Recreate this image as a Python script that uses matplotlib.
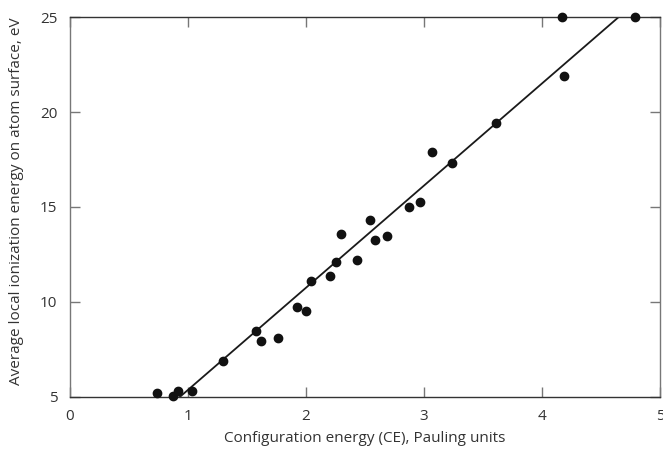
import matplotlib
matplotlib.use("Agg")
import matplotlib.pyplot as plt
import numpy as np

ce = [0.734, 0.875, 0.917, 1.035, 1.30, 1.58, 1.62, 1.76, 1.92, 2.00, 2.04, 2.20,
      2.255, 2.30, 2.43, 2.54, 2.585, 2.686, 2.87, 2.965, 3.07, 3.236, 3.61,
      4.166, 4.19, 4.79]
ion = [5.19, 5.03, 5.34, 5.34, 6.91, 8.45, 7.96, 8.13, 9.76, 9.50, 11.10, 11.35,
       12.10, 13.56, 12.19, 14.29, 13.24, 13.47, 15.01, 15.25, 17.88, 17.32, 19.42,
       24.98, 21.87, 24.98]
fit_slope = 5.376
fit_intercept = 0.0
fit_x = [0.90, 4.70]

xticks = [0, 1, 2, 3, 4, 5]
yticks = [5, 10, 15, 20, 25]

plt.rcParams['font.family'] = ['Open Sans', 'DejaVu Sans']

fig = plt.figure(figsize=(6.63, 4.5), dpi=100)
ax = fig.add_axes([0.1056, 0.1178, 0.8899, 0.8444])

fx = np.array(fit_x)
ax.plot(fx, fit_slope * fx + fit_intercept, color='#1a1a1a', lw=1.3, zorder=2)
ax.plot(ce, ion, 'o', color='#111111', ms=6, clip_on=False, zorder=3)

ax.set_xlim(0, 5)
ax.set_ylim(5, 25)
ax.set_xticks(xticks)
ax.set_yticks(yticks)
ax.tick_params(direction='in', length=7.5, width=1.0, color='#777777',
               labelsize=11, labelcolor='#333333', top=True, right=True)
ax.tick_params(axis='x', pad=9)
ax.tick_params(axis='y', pad=9)

for s in ['left', 'right']:
    ax.spines[s].set_color('#777777')
for s in ['top', 'bottom']:
    ax.spines[s].set_color('#333333')
for s in ax.spines.values():
    s.set_linewidth(1.0)

fig.text(365 / 663, 1 - 438 / 450, 'Configuration energy (CE), Pauling units',
         fontsize=11, color='#333333', ha='center', va='center')
fig.text(17 / 663, 1 - 201 / 450, 'Average local ionization energy on atom surface, eV',
         fontsize=11, color='#333333', ha='center', va='center', rotation=90)

fig.savefig('out.png', dpi=100)
